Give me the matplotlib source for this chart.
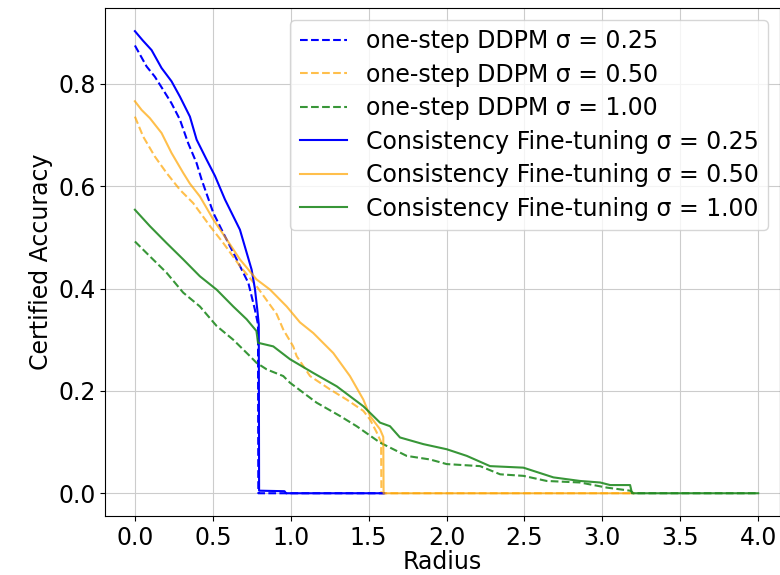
import numpy as np
import matplotlib
matplotlib.use("Agg")
import matplotlib.pyplot as plt

# Certified accuracy vs radius
radius_ddpm_025 = [0, 0.075, 0.128, 0.182, 0.235, 0.289, 0.342, 0.396, 0.428, 0.503, 0.578, 0.653, 0.728, 0.77, 0.79, 0.792, 1.6]
acc_ddpm_025 = [0.875, 0.834, 0.814, 0.788, 0.762, 0.73, 0.684, 0.645, 0.613, 0.548, 0.502, 0.457, 0.411, 0.359, 0.33, 0.0, 0.0]

radius_ddpm_050 = [0, 0.053, 0.128, 0.203, 0.289, 0.374, 0.482, 0.567, 0.674, 0.78, 0.91, 0.952, 1.016, 1.038, 1.124, 1.252, 1.359, 1.466, 1.509, 1.55, 1.58, 1.582, 3.2]
acc_ddpm_050 = [0.736, 0.697, 0.658, 0.626, 0.593, 0.567, 0.522, 0.489, 0.444, 0.405, 0.35, 0.32, 0.287, 0.268, 0.229, 0.203, 0.183, 0.161, 0.144, 0.12, 0.10, 0.0, 0.0]

radius_ddpm_100 = [0, 0.096, 0.203, 0.31, 0.417, 0.524, 0.631, 0.738, 0.78, 0.846, 0.952, 0.995, 1.166, 1.316, 1.423, 1.573, 1.744, 1.894, 2.001, 2.215, 2.344, 2.493, 2.643, 2.857, 3.029, 3.178, 3.2, 4.0]
acc_ddpm_100 = [0.492, 0.463, 0.431, 0.392, 0.365, 0.327, 0.300, 0.268, 0.255, 0.242, 0.229, 0.216, 0.177, 0.151, 0.131, 0.099, 0.073, 0.066, 0.057, 0.053, 0.037, 0.034, 0.024, 0.021, 0.011, 0.005, 0.0, 0.0]

radius_cf_025 = [0, 0.05, 0.107, 0.171, 0.235, 0.289, 0.353, 0.396, 0.46, 0.514, 0.578, 0.674, 0.749, 0.77, 0.785, 0.795, 0.797, 0.96, 0.97, 1.6]
acc_cf_025 = [0.903, 0.885, 0.866, 0.831, 0.805, 0.775, 0.736, 0.691, 0.652, 0.62, 0.574, 0.515, 0.437, 0.40, 0.36, 0.33, 0.005, 0.004, 0.0, 0.0]

radius_cf_050 = [0, 0.043, 0.096, 0.171, 0.235, 0.31, 0.353, 0.417, 0.503, 0.589, 0.674, 0.78, 0.867, 0.974, 1.059, 1.145, 1.273, 1.38, 1.466, 1.509, 1.573, 1.594, 1.596, 3.2]
acc_cf_050 = [0.766, 0.749, 0.733, 0.704, 0.665, 0.626, 0.605, 0.58, 0.535, 0.496, 0.457, 0.418, 0.398, 0.365, 0.334, 0.313, 0.274, 0.229, 0.183, 0.151, 0.125, 0.11, 0.0, 0.0]

radius_cf_100 = [0, 0.096, 0.203, 0.31, 0.417, 0.524, 0.631, 0.717, 0.78, 0.79, 0.888, 0.995, 1.145, 1.295, 1.466, 1.573, 1.637, 1.701, 1.851, 2.001, 2.13, 2.279, 2.493, 2.686, 2.857, 2.986, 3.05, 3.178, 3.19, 4.0]
acc_cf_100 = [0.554, 0.522, 0.489, 0.457, 0.424, 0.398, 0.365, 0.34, 0.317, 0.294, 0.287, 0.262, 0.235, 0.209, 0.170, 0.138, 0.131, 0.109, 0.096, 0.086, 0.073, 0.053, 0.050, 0.031, 0.024, 0.021, 0.016, 0.016, 0.0, 0.0]

FS = 17
plt.rcParams["font.size"] = FS

fig, ax = plt.subplots(figsize=(7.8, 5.75), dpi=100)

c_blue = "blue"
c_orange = "orange"
c_green = "forestgreen"

ax.plot(radius_ddpm_025, acc_ddpm_025, "--", color=c_blue, lw=1.5, label="one-step DDPM σ = 0.25")
ax.plot(radius_ddpm_050, acc_ddpm_050, "--", color=c_orange, alpha=0.7, lw=1.5, label="one-step DDPM σ = 0.50")
ax.plot(radius_ddpm_100, acc_ddpm_100, "--", color=c_green, alpha=0.9, lw=1.5, label="one-step DDPM σ = 1.00")
ax.plot(radius_cf_025, acc_cf_025, "-", color=c_blue, lw=1.5, label="Consistency Fine-tuning σ = 0.25")
ax.plot(radius_cf_050, acc_cf_050, "-", color=c_orange, alpha=0.7, lw=1.5, label="Consistency Fine-tuning σ = 0.50")
ax.plot(radius_cf_100, acc_cf_100, "-", color=c_green, alpha=0.9, lw=1.5, label="Consistency Fine-tuning σ = 1.00")

ax.set_xlabel("Radius", fontsize=FS, labelpad=0)
ax.set_ylabel("Certified Accuracy", fontsize=FS)
ax.set_xticks(np.arange(0, 4.01, 0.5))
ax.set_yticks([0.0, 0.2, 0.4, 0.6, 0.8])
ax.set_xlim(-0.19, 4.14)
ax.tick_params(labelsize=FS)
ax.grid(True, color="#cccccc")
ax.legend(loc="upper right", fontsize=FS, labelspacing=0.4, borderaxespad=0.5)

plt.subplots_adjust(left=0.135, right=1.0, bottom=0.102, top=0.986)
plt.savefig("out.png", dpi=100)
